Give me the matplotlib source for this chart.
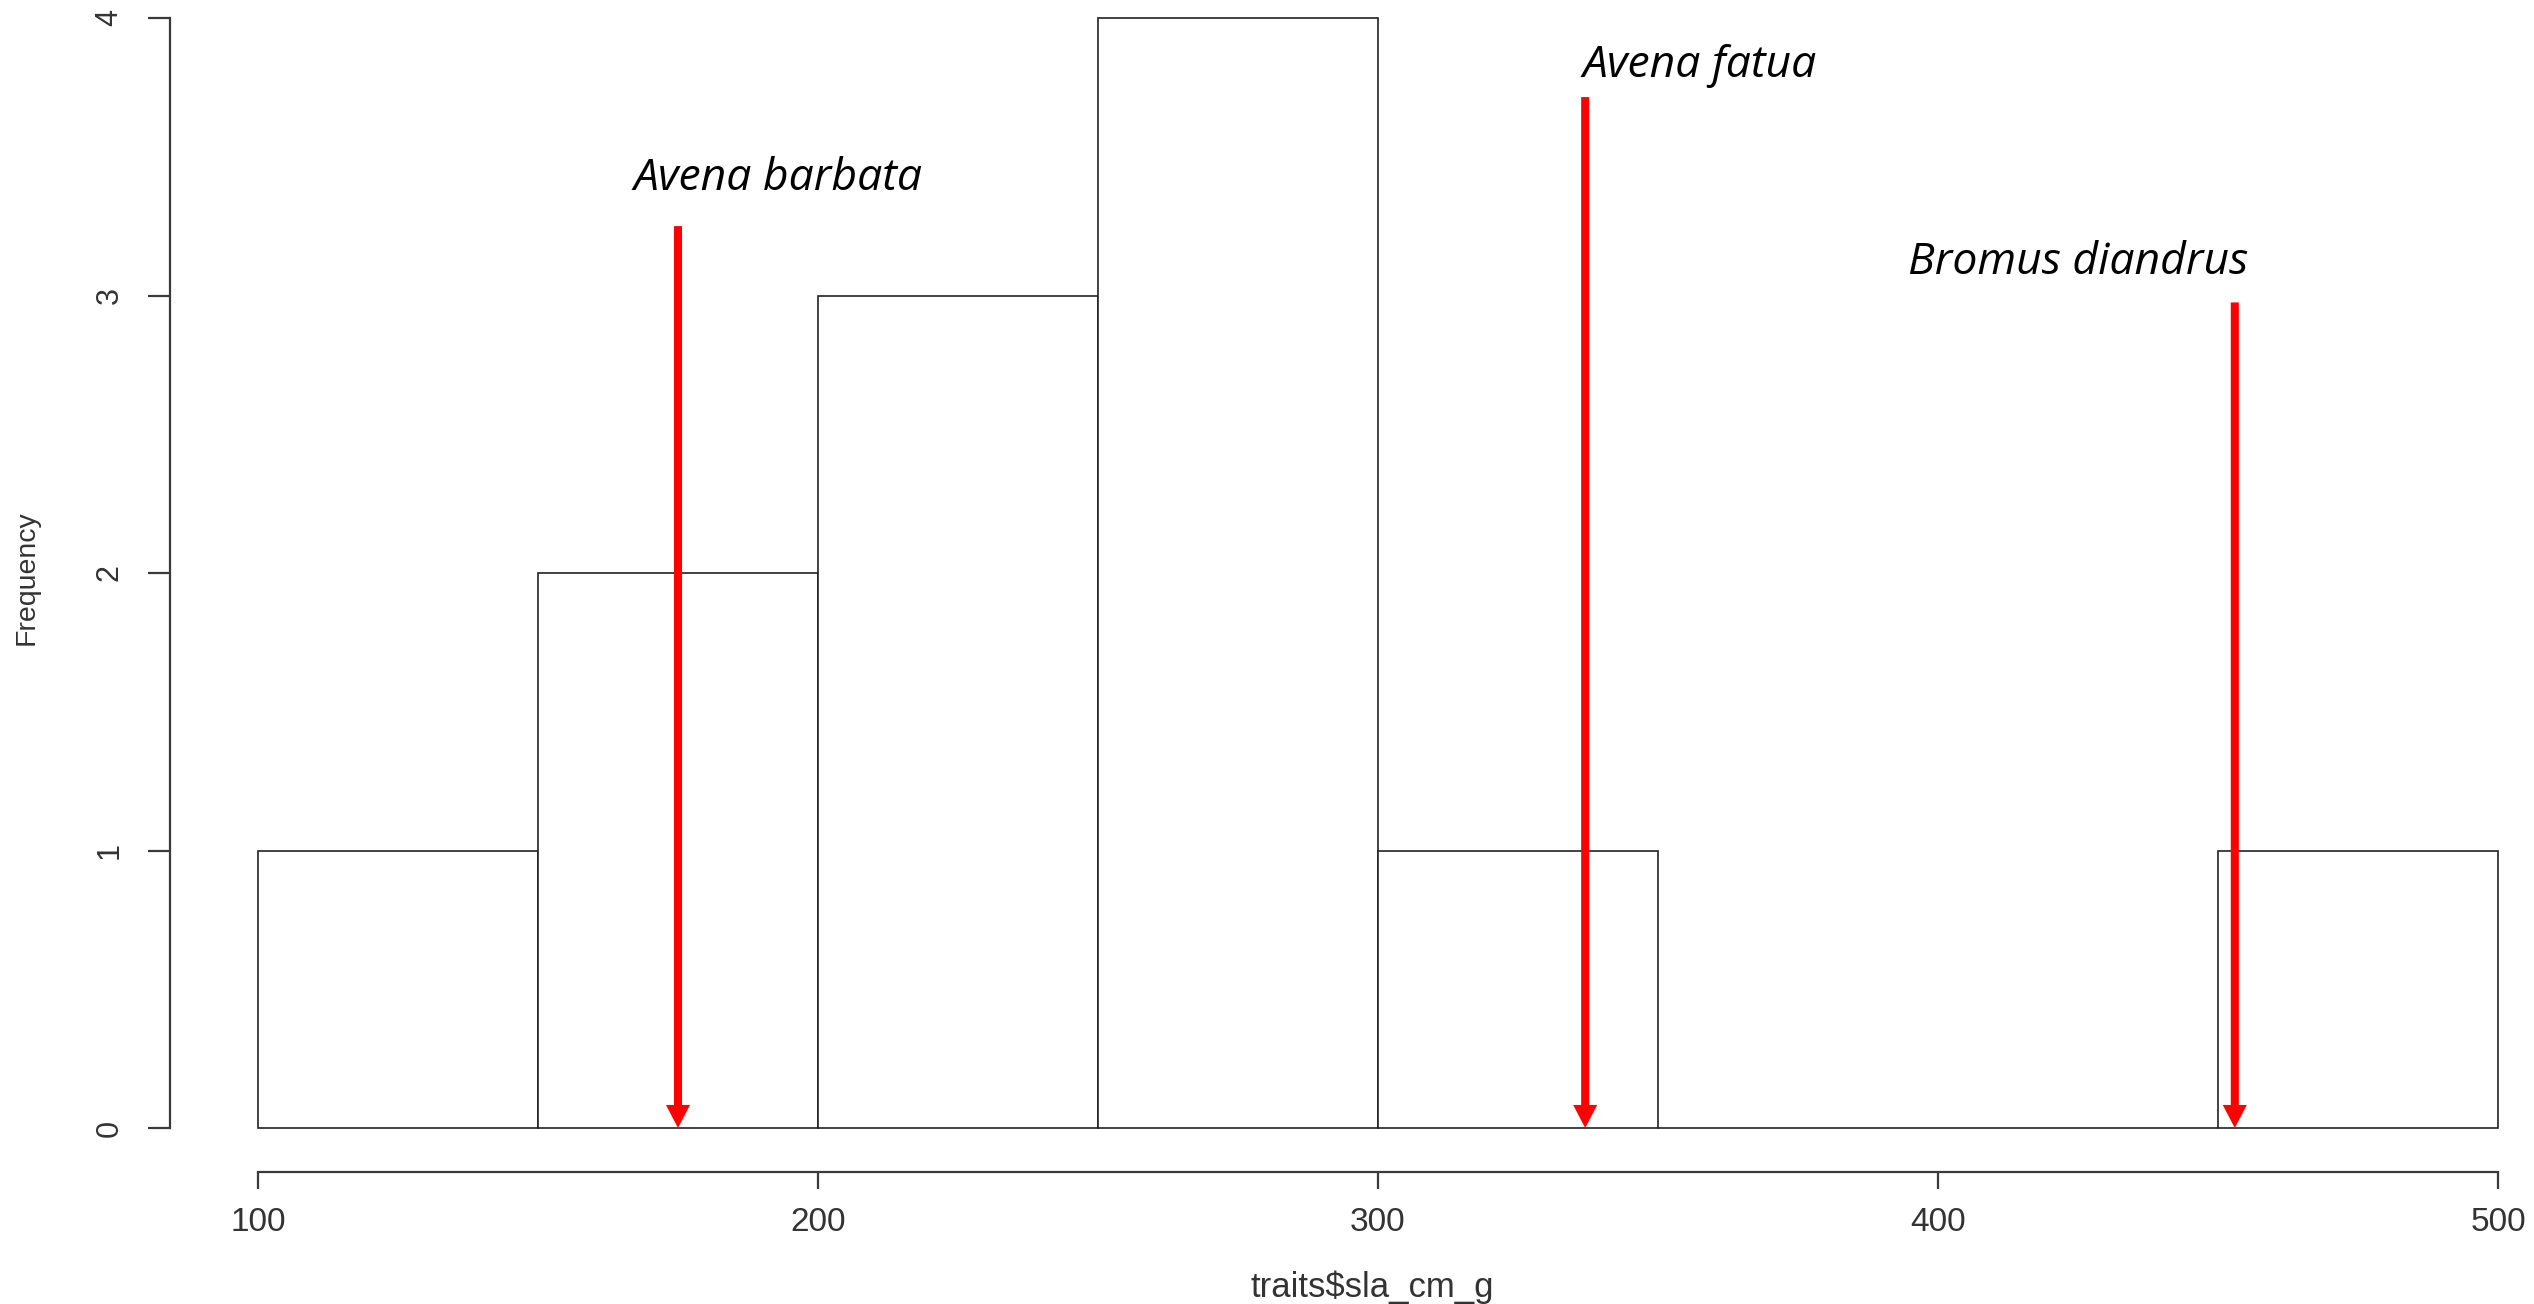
import matplotlib
matplotlib.use("Agg")
import matplotlib.pyplot as plt

# ---- data ----
bin_edges = [100, 150, 200, 250, 300, 350, 400, 450, 500]
counts = [1, 2, 3, 4, 1, 0, 0, 1]
x_ticks = [100, 200, 300, 400, 500]
y_ticks = [0, 1, 2, 3, 4]
species = ["Avena barbata", "Avena fatua", "Bromus diandrus"]
species_sla = [175, 337, 453]
arrow_tops = [3.25, 3.715, 2.975]
label_x = [167, 336.6, 394.6]
label_y = [3.38, 3.787, 3.077]

W, H = 2534, 1304
DPI = 100
fig = plt.figure(figsize=(W / DPI, H / DPI), dpi=DPI)
fig.patch.set_facecolor("white")

left_px, right_px, top_px, bottom_px = 258, 2498, 18, 1128
ax = fig.add_axes([left_px / W, 1 - bottom_px / H,
                   (right_px - left_px) / W, (bottom_px - top_px) / H])
ax.set_xlim(100, 500)
ax.set_ylim(0, 4)

axis_col = "#3a3a3a"
text_col = "#333333"
sans = ["Liberation Sans", "DejaVu Sans"]

lefts = bin_edges[:-1]
widths = [b - a for a, b in zip(bin_edges[:-1], bin_edges[1:])]
bars = ax.bar(lefts, counts, width=widths, align="edge", facecolor="white",
              edgecolor="#222222", linewidth=1.2)
for b in bars:
    b.set_clip_on(False)

for sp in ["top", "right"]:
    ax.spines[sp].set_visible(False)
ax.spines["bottom"].set_position(("outward", 44 * 72 / DPI))
ax.spines["left"].set_position(("outward", 88 * 72 / DPI))
ax.spines["bottom"].set_bounds(100, 500)
ax.spines["left"].set_bounds(0, 4)
for sp in ["bottom", "left"]:
    ax.spines[sp].set_color(axis_col)
    ax.spines[sp].set_linewidth(1.6)

ax.set_xticks(x_ticks)
ax.set_xticklabels([str(v) for v in x_ticks])
ax.set_yticks(y_ticks)
ax.set_yticklabels([str(v) for v in y_ticks])
ax.tick_params(axis="x", length=17 * 72 / DPI, width=1.6, color=axis_col,
               pad=13, labelsize=24, labelcolor=text_col)
ax.tick_params(axis="y", length=22 * 72 / DPI, width=1.6, color=axis_col,
               pad=17, labelsize=22, labelcolor=text_col, labelrotation=90)
for t in ax.get_xticklabels() + ax.get_yticklabels():
    t.set_family(sans)
for t in ax.get_yticklabels():
    t.set_verticalalignment("center")

fig.text(1372 / W, 1 - 1287 / H, "traits$sla_cm_g", ha="center", va="center",
         fontsize=25, color=text_col, family=sans)
fig.text(27 / W, 1 - 578 / H, "Frequency", ha="center", va="center",
         rotation=90, fontsize=20.5, color=text_col, family=sans)

for name, xv, top, lx, ly in zip(species, species_sla, arrow_tops, label_x, label_y):
    ax.annotate("", xy=(xv, 0), xytext=(xv, top),
                arrowprops=dict(arrowstyle="simple,head_length=16.6,head_width=17.3,tail_width=5.8",
                                mutation_scale=1, color="#ff0000", lw=0,
                                shrinkA=0, shrinkB=0),
                annotation_clip=False)
    ax.text(lx, ly, name, ha="left", va="baseline", fontsize=32,
            style="italic", family=["Open Sans", "Noto Sans", "DejaVu Sans"],
            color="black", clip_on=False)

fig.savefig("out.png", dpi=DPI, facecolor="white")
